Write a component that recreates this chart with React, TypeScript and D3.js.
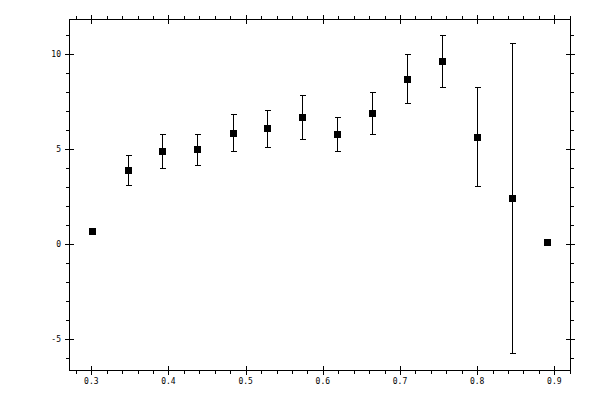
import { useMemo } from "react";
import { range, scaleLinear } from "d3";

const totalWidth = 600;
const totalHeight = 400;
const left = 69;
const right = 570;
const top = 19;
const bottom = 370;

const xValues = [0.301, 0.347, 0.392, 0.437, 0.483, 0.528, 0.573, 0.619, 0.664, 0.709, 0.755, 0.8, 0.845, 0.891];
const yValues = [0.67, 3.88, 4.88, 4.98, 5.83, 6.1, 6.67, 5.77, 6.88, 8.67, 9.61, 5.62, 2.4, 0.09];
const yLow = [0.6, 3.09, 3.98, 4.16, 4.88, 5.09, 5.51, 4.88, 5.77, 7.41, 8.25, 3.05, -5.74, 0.05];
const yHigh = [0.74, 4.68, 5.77, 5.77, 6.84, 7.04, 7.82, 6.7, 7.98, 10.0, 10.98, 8.25, 10.56, 0.13];

const xTicks = [0.3, 0.4, 0.5, 0.6, 0.7, 0.8, 0.9];
const yTicks = [-5, 0, 5, 10];

const font = "'DejaVu Sans Mono', monospace";

export default function App() {
  const { xScale, yScale, xMinor, yMinor } = useMemo(() => {
    const xScale = scaleLinear().domain([0.2711, 0.9203]).range([left, right]);
    const yScale = scaleLinear().domain([-6.63, 11.84]).range([bottom, top]);
    const xMinor = range(0.28, 0.921, 0.02).filter(
      (v) => !xTicks.some((t) => Math.abs(t - v) < 1e-6),
    );
    const yMinor = range(-6, 12, 1).filter((v) => !yTicks.includes(v));
    return { xScale, yScale, xMinor, yMinor };
  }, []);

  const px = (v: number) => Math.round(v) + 0.5;

  return (
    <svg
      width={totalWidth}
      height={totalHeight}
      viewBox={`0 0 ${totalWidth} ${totalHeight}`}
      style={{ position: "absolute", left: 0, top: 0, background: "white" }}
      shapeRendering="crispEdges"
    >
      <rect
        x={left + 0.5}
        y={top + 0.5}
        width={right - left}
        height={bottom - top}
        fill="none"
        stroke="black"
      />
      {/* x ticks, bottom and top */}
      {xTicks.map((t) => (
        <g key={`xt${t}`} stroke="black">
          <line x1={px(xScale(t))} x2={px(xScale(t))} y1={bottom - 4} y2={bottom + 5} />
          <line x1={px(xScale(t))} x2={px(xScale(t))} y1={top - 4} y2={top + 5} />
        </g>
      ))}
      {xMinor.map((t) => (
        <g key={`xm${t}`} stroke="black">
          <line x1={px(xScale(t))} x2={px(xScale(t))} y1={bottom} y2={bottom + 4} />
          <line x1={px(xScale(t))} x2={px(xScale(t))} y1={top - 3} y2={top + 1} />
        </g>
      ))}
      {xTicks.map((t) => (
        <text
          key={`xl${t}`}
          x={xScale(t)}
          y={384}
          fontFamily={font}
          fontSize={8}
          textAnchor="middle"
        >
          {t.toFixed(1)}
        </text>
      ))}
      {/* y ticks, left and right */}
      {yTicks.map((t) => (
        <g key={`yt${t}`} stroke="black">
          <line x1={left - 4} x2={left + 5} y1={px(yScale(t))} y2={px(yScale(t))} />
          <line x1={right - 4} x2={right + 5} y1={px(yScale(t))} y2={px(yScale(t))} />
        </g>
      ))}
      {yMinor.map((t) => (
        <g key={`ym${t}`} stroke="black">
          <line x1={left - 3} x2={left + 1} y1={px(yScale(t))} y2={px(yScale(t))} />
          <line x1={right} x2={right + 4} y1={px(yScale(t))} y2={px(yScale(t))} />
        </g>
      ))}
      {yTicks.map((t) => (
        <text
          key={`yl${t}`}
          x={left - 8}
          y={yScale(t) + 3}
          fontFamily={font}
          fontSize={8}
          textAnchor="end"
        >
          {t}
        </text>
      ))}
      {/* error bars */}
      {xValues.map((x, i) => {
        const cx = px(xScale(x));
        const y1 = px(yScale(yLow[i]));
        const y2 = px(yScale(yHigh[i]));
        return (
          <g key={`e${i}`} stroke="black">
            <line x1={cx} x2={cx} y1={y1} y2={y2} />
            <line x1={cx - 2.5} x2={cx + 3} y1={y1} y2={y1} />
            <line x1={cx - 2.5} x2={cx + 3} y1={y2} y2={y2} />
          </g>
        );
      })}
      {/* markers */}
      {xValues.map((x, i) => (
        <rect
          key={`p${i}`}
          x={Math.round(xScale(x)) - 3}
          y={Math.round(yScale(yValues[i])) - 3}
          width={7}
          height={7}
          fill="black"
        />
      ))}
    </svg>
  );
}
